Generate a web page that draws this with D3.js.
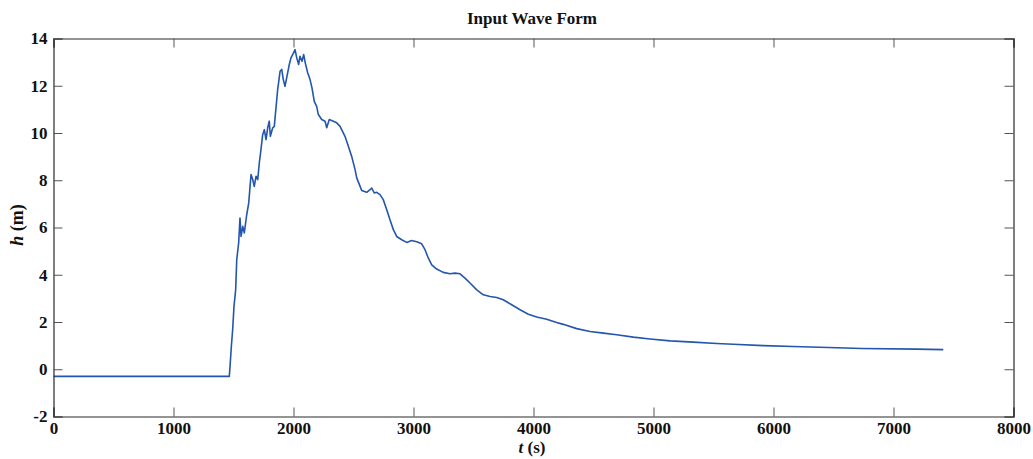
<!DOCTYPE html>
<html><head><meta charset="utf-8">
<script src="https://cdn.jsdelivr.net/npm/d3@7"></script>
<style>body{margin:0;background:#fff;} svg{display:block;}</style>
</head><body>
<svg id="c" width="1033" height="459"></svg>
<script>
const timeS = [0,1465,1471,1482,1493,1504,1518,1527,1543,1554,1563,1577,1590,1610,1627,1638,1646,1660,1673,1688,1702,1715,1729,1743,1757,1771,1785,1798,1807,1827,1840,1854,1868,1888,1902,1915,1929,1943,1965,1979,1993,2013,2027,2043,2054,2071,2085,2098,2118,2138,2154,2173,2193,2207,2235,2263,2277,2298,2332,2360,2388,2429,2457,2485,2513,2527,2568,2610,2638,2652,2673,2693,2721,2748,2777,2804,2832,2860,2902,2943,2985,3027,3068,3096,3123,3152,3193,3248,3304,3346,3388,3429,3471,3527,3582,3638,3693,3748,3818,3888,3957,4027,4110,4193,4248,4360,4471,4582,4693,4832,4971,5138,5332,5527,5665,5915,6165,6457,6735,7193,7415];
const heightM = [-0.3,-0.3,0.11,0.96,1.67,2.66,3.36,4.64,5.35,6.4,5.62,6.05,5.77,6.54,7.04,7.74,8.24,8.03,7.74,8.17,8.03,8.73,9.3,9.93,10.14,9.72,10.22,10.5,9.86,10.22,10.28,11.06,11.84,12.61,12.69,12.26,11.98,12.33,12.9,13.18,13.32,13.53,13.18,12.9,13.25,13.04,13.32,12.97,12.55,12.26,11.91,11.34,11.13,10.78,10.57,10.5,10.22,10.57,10.5,10.43,10.28,9.86,9.44,9.01,8.45,8.1,7.57,7.49,7.6,7.67,7.46,7.49,7.39,7.18,6.75,6.33,5.91,5.62,5.48,5.37,5.45,5.4,5.31,5.06,4.71,4.42,4.24,4.1,4.04,4.07,4.04,3.86,3.65,3.36,3.15,3.08,3.04,2.94,2.73,2.52,2.33,2.21,2.12,1.98,1.9,1.72,1.6,1.53,1.46,1.36,1.28,1.2,1.15,1.09,1.06,1.0,0.96,0.92,0.88,0.85,0.83];
const xTicks = [0,1000,2000,3000,4000,5000,6000,7000,8000];
const yTicks = [-2,0,2,4,6,8,10,12,14];
const titleText = "Input Wave Form";

const svg = d3.select("#c");
const L = 53.5, R = 1013.5, T = 38.5, B = 416.5;
const x = d3.scaleLinear().domain([0,8000]).range([L,R]);
const y = d3.scaleLinear().domain([-2,14]).range([B,T]);
const font = "'Liberation Serif', 'Times New Roman', serif";
const fmt = d => String(d).replace("\u2212","-");

// data line
const pts = timeS.map((t,i)=>[t,heightM[i]]);
svg.append("path").datum(pts)
  .attr("d", d3.line().x(d=>x(d[0])).y(d=>y(d[1])))
  .attr("fill","none").attr("stroke","#2356ad").attr("stroke-width",1.6).attr("stroke-linejoin","round");

// axes
const tickLen = 9;
const gx = svg.append("g").attr("transform",`translate(0,${B})`)
  .call(d3.axisBottom(x).tickValues(xTicks).tickSize(-tickLen).tickPadding(5).tickFormat(fmt));
const gxt = svg.append("g").attr("transform",`translate(0,${T})`)
  .call(d3.axisTop(x).tickValues(xTicks).tickSize(-tickLen).tickFormat(""));
const gy = svg.append("g").attr("transform",`translate(${L},0)`)
  .call(d3.axisLeft(y).tickValues(yTicks).tickSize(-tickLen).tickPadding(6).tickFormat(fmt));
const gyr = svg.append("g").attr("transform",`translate(${R},0)`)
  .call(d3.axisRight(y).tickValues(yTicks).tickSize(-tickLen).tickFormat(""));
[gx,gxt,gy,gyr].forEach(g=>{
  g.select(".domain").attr("stroke","#2a2a2a").attr("stroke-width",1.2);
  g.selectAll(".tick line").attr("stroke","#555").attr("stroke-width",1);
  g.selectAll(".tick text").attr("font-family",font).attr("font-weight","bold")
    .attr("font-size",17).attr("fill","#111");
});

// title
svg.append("text").attr("x",532).attr("y",24).attr("text-anchor","middle")
  .attr("font-family",font).attr("font-weight","bold").attr("font-size",17).attr("fill","#111")
  .text(titleText);

// x label
const xl = svg.append("text").attr("x",532).attr("y",453).attr("text-anchor","middle")
  .attr("font-family",font).attr("font-weight","bold").attr("font-size",17).attr("fill","#111");
xl.append("tspan").attr("font-style","italic").text("t");
xl.append("tspan").text(" (s)");

// y label
const yl = svg.append("text").attr("transform","translate(23,225) rotate(-90)").attr("text-anchor","middle")
  .attr("font-family",font).attr("font-weight","bold").attr("font-size",18).attr("fill","#111");
yl.append("tspan").attr("font-style","italic").text("h");
yl.append("tspan").text(" (m)");
</script>
</body></html>
